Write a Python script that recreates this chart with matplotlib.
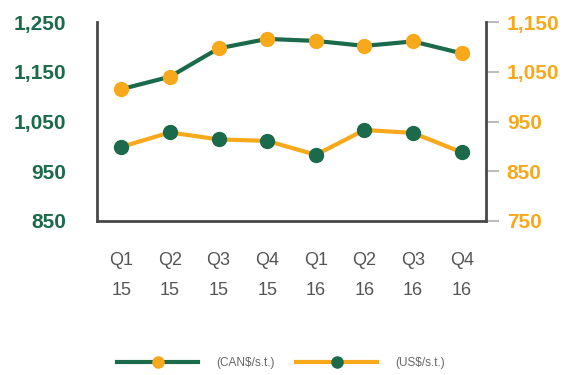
import matplotlib
matplotlib.use("Agg")
import matplotlib.pyplot as plt

plt.rcParams['font.family'] = ['Liberation Sans', 'DejaVu Sans']

quarters = ["Q1\n15", "Q2\n15", "Q3\n15", "Q4\n15", "Q1\n16", "Q2\n16", "Q3\n16", "Q4\n16"]
can_price = [1115, 1140, 1197, 1216, 1212, 1202, 1211, 1187]   # CAN$/s.t., left axis
us_price = [899, 928, 914, 911, 883, 933, 927, 888]            # US$/s.t., right axis
left_ticks = [850, 950, 1050, 1150, 1250]
right_ticks = [750, 850, 950, 1050, 1150]

green = '#1a6a4b'
orange = '#f7a81b'
spine_col = '#484848'

fig = plt.figure(figsize=(5.65, 3.75), dpi=100)
ax = fig.add_axes([0.1717, 0.4107, 0.6885, 0.5306])
ax2 = ax.twinx()

x = range(len(quarters))
l1, = ax.plot(x, can_price, color=green, lw=3, marker='o', ms=10,
              mfc=orange, mec=orange, label='(CAN$/s.t.)', zorder=3)
l2, = ax2.plot(x, us_price, color=orange, lw=3, marker='o', ms=10,
               mfc=green, mec=green, label='(US$/s.t.)', zorder=3)

ax.set_xlim(-0.5, 7.5)
ax.set_ylim(850, 1250)
ax2.set_ylim(750, 1150)

ax.set_xticks(list(x))
ax.set_xticklabels(quarters, fontsize=13, color='#555555', linespacing=2.05)
ax.set_yticks(left_ticks)
ax.set_yticklabels([f"{v:,}" for v in left_ticks], fontsize=15, color=green, fontweight='bold')
ax2.set_yticks(right_ticks)
ax2.set_yticklabels([f"{v:,}" for v in right_ticks], fontsize=15, color=orange, fontweight='bold')

ax.tick_params(axis='x', length=0, pad=22)
ax.tick_params(axis='y', length=0, pad=22)
ax2.tick_params(axis='y', length=9, width=1.5, color='#bbbbbb', pad=6)

for s in ['top', 'right']:
    ax.spines[s].set_visible(False)
for s in ['top', 'left', 'bottom']:
    ax2.spines[s].set_visible(False)
ax.spines['left'].set_color(spine_col)
ax.spines['bottom'].set_color(spine_col)
ax2.spines['right'].set_color(spine_col)
for sp in [ax.spines['left'], ax.spines['bottom'], ax2.spines['right']]:
    sp.set_linewidth(2)

fig.legend(handles=[l1, l2], loc='center', bbox_to_anchor=(0.498, 0.032), ncol=2,
           frameon=False, fontsize=8.5, labelcolor='#666666', handlelength=6.8,
           markerscale=0.8, columnspacing=1.8, handletextpad=1.6)

fig.savefig('out.png', dpi=100)
